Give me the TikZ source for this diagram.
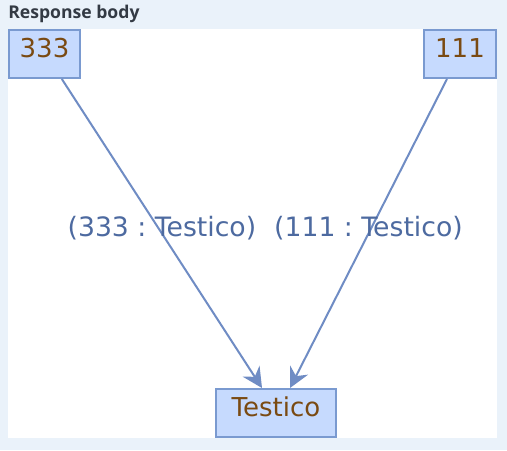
\documentclass[tikz,border=0pt]{standalone}
\usepackage{fontspec}
\setmainfont{DejaVu Sans}
\newfontfamily\titlefont{Open Sans}
\usetikzlibrary{arrows.meta}
\definecolor{bgblue}{HTML}{EAF2FA}
\definecolor{boxfill}{HTML}{C6DAFE}
\definecolor{boxline}{HTML}{7A9AD0}
\definecolor{edgecol}{HTML}{6F8CC4}
\definecolor{labcol}{HTML}{4D6AA0}
\definecolor{txtbrown}{HTML}{7A4A12}
\definecolor{titlecol}{HTML}{333A44}
\frenchspacing
\tikzset{
  vbox/.style={draw=boxline, fill=boxfill, line width=1.5pt, inner sep=0pt,
    minimum height=36pt, text=txtbrown, font=\fontsize{19.5pt}{22pt}\selectfont,
    text height=14.2pt, text depth=9pt},
  conn/.style={draw=edgecol, line width=1.5pt, -{Stealth[length=15pt,width=15pt,inset=5pt]}},
  elab/.style={text=labcol, font=\fontsize{20pt}{23pt}\selectfont, pos=0.5, yshift=4pt, inner sep=0pt}
}
\begin{document}
\begin{tikzpicture}[x=0.75pt,y=-0.75pt]
\useasboundingbox (0,0) rectangle (507,450);
\fill[bgblue] (0,0) rectangle (507,450);
\fill[white] (8,29) rectangle (497,438);
\node[anchor=west, inner sep=0pt, text=titlecol, font=\titlefont\bfseries\fontsize{13.2pt}{15pt}\selectfont] (title) at (8,14) {Response body};
\node[vbox, minimum width=53.25pt] (n333) at (44.5,54) {333};
\node[vbox, minimum width=54pt] (n111) at (460,54) {111};
\node[vbox, minimum width=90pt] (tst) at (276,413) {Testico};
\draw[conn] ([xshift=13pt]n333.south) -- node[elab] {(333 : Testico)} ([xshift=-10.5pt]tst.north);
\draw[conn] ([xshift=-9.75pt]n111.south) -- node[elab] {(111 : Testico)} ([xshift=10.5pt]tst.north);
\end{tikzpicture}
\end{document}
